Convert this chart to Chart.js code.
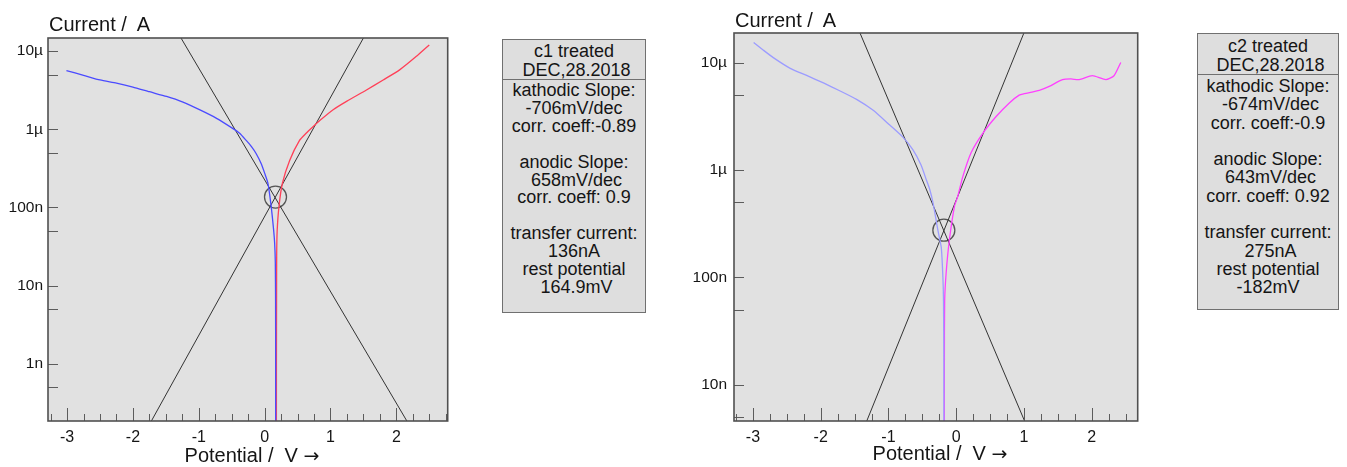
<!DOCTYPE html>
<html>
<head>
<meta charset="utf-8">
<script src="https://cdn.jsdelivr.net/npm/chart.js@4.4.1/dist/chart.umd.min.js"></script>
<style>
  html, body { margin:0; padding:0; background:#ffffff; }
  body { width:1347px; height:467px; position:relative; overflow:hidden; font-family:"Liberation Sans", Arial, sans-serif; color:#151515; }
  canvas { position:absolute; top:0; }
  .t { position:absolute; white-space:pre; font-size:20px; line-height:24px; color:#151515; }
  .arr { font-family:"DejaVu Sans", sans-serif; font-size:19px; }
  .box { position:absolute; background:#dedede; border:1px solid #707070; box-sizing:border-box; font-size:18px; color:#151515; text-align:center; }
  .box > div { white-space:pre; }
  .hdr { border-bottom:1px solid #707070; box-sizing:border-box; }
</style>
</head>
<body>
<canvas id="c1" width="460" height="467" style="left:0px"></canvas>
<canvas id="c2" width="460" height="467" style="left:690px"></canvas>

<div class="t" style="left:49px;top:12px">Current /  A</div>
<div class="t" style="left:735px;top:8px">Current /  A</div>
<div class="t" style="left:172px;top:443px;width:160px;text-align:center">Potential /  V <span class="arr">→</span></div>
<div class="t" style="left:860px;top:441px;width:160px;text-align:center">Potential /  V <span class="arr">→</span></div>

<div class="box" style="left:502px;top:39px;width:144px;height:274px"><div class="hdr" style="height:40px;padding-top:2px;line-height:18.6px">c1 treated
 DEC,28.2018</div><div style="padding-top:2px;line-height:17.9px">kathodic Slope:
-706mV/dec
corr. coeff:-0.89

anodic Slope:
 658mV/dec
corr. coeff: 0.9

transfer current:
136nA
rest potential
 164.9mV</div></div>

<div class="box" style="left:1197px;top:33px;width:142px;height:277px"><div class="hdr" style="height:41px;padding-top:3px;line-height:19.3px">c2 treated
 DEC,28.2018</div><div style="padding-top:2px;line-height:18.3px">kathodic Slope:
 -674mV/dec
corr. coeff:-0.9

anodic Slope:
 643mV/dec
corr. coeff: 0.92

transfer current:
 275nA
rest potential
-182mV</div></div>

<script>
// ---------- tick definitions ----------
const xTicksC1 = [-3.25,-3,-2.75,-2.5,-2.25,-2,-1.75,-1.5,-1.25,-1,-0.75,-0.5,-0.25,0,0.25,0.5,0.75,1,1.25,1.5,1.75,2,2.25,2.5,2.75];
const xTicksC2 = [-3.25,-3,-2.75,-2.5,-2.25,-2,-1.75,-1.5,-1.25,-1,-0.75,-0.5,-0.25,0,0.25,0.5,0.75,1,1.25,1.5,1.75,2,2.25,2.5];
const xLabelValues = [-3,-2,-1,0,1,2];
const xLabelTexts  = ['-3','-2','-1','0','1','2'];
const yTicksC1 = [5e-10,1e-9,5e-9,1e-8,5e-8,1e-7,5e-7,1e-6,5e-6,1e-5];
const yTicksC2 = [5e-9,1e-8,5e-8,1e-7,5e-7,1e-6,5e-6,1e-5];
const yLabelValues = [1e-9,1e-8,1e-7,1e-6,1e-5];
const yLabelTexts  = ['1n','10n','100n','1\u00b5','10\u00b5'];

// ---------- c1 data (potential V, current A) ----------
const c1CathE = [-3.01,-2.75,-2.50,-2.25,-2.00,-1.75,-1.49,-1.25,-0.99,-0.73,-0.48,-0.38,-0.28,-0.20,-0.13,-0.05,0.00,0.05,0.10,0.137,0.152,0.162,0.166,0.167,0.167];
const c1CathI = [5.62e-6,4.90e-6,4.27e-6,3.89e-6,3.47e-6,3.02e-6,2.63e-6,2.24e-6,1.78e-6,1.38e-6,1.02e-6,8.9e-7,7.2e-7,6.0e-7,4.9e-7,3.6e-7,2.75e-7,2.04e-7,1.02e-7,5.1e-8,3.5e-8,2.0e-8,6.3e-9,1e-9,1e-11];
const c1AnoE  = [0.178,0.179,0.181,0.183,0.19,0.217,0.27,0.38,0.53,0.63,0.73,0.85,1.04,1.25,1.54,1.80,2.05,2.30,2.50];
const c1AnoI  = [1e-11,1e-9,6.3e-9,2.5e-8,5.0e-8,1.02e-7,2.04e-7,4.0e-7,7.2e-7,8.9e-7,1.07e-6,1.32e-6,1.78e-6,2.29e-6,3.16e-6,4.27e-6,5.75e-6,8.5e-6,1.20e-5];
const c1TafelCathE = [-1.27, 2.16];
const c1TafelCathI = [1.47e-5, 1.86e-10];
const c1TafelAnoE  = [1.50, -1.72];
const c1TafelAnoI  = [1.47e-5, 1.86e-10];
const c1RestE = [0.165];
const c1RestI = [1.36e-7];

// ---------- c2 data ----------
const c2CathE = [-2.99,-2.85,-2.70,-2.45,-2.20,-1.96,-1.72,-1.47,-1.23,-0.98,-0.79,-0.64,-0.52,-0.44,-0.39,-0.34,-0.27,-0.22,-0.196,-0.187,-0.182,-0.180];
const c2CathI = [1.55e-5,1.32e-5,1.12e-5,8.9e-6,7.6e-6,6.5e-6,5.5e-6,4.57e-6,3.63e-6,2.63e-6,2.04e-6,1.55e-6,1.12e-6,8.1e-7,6.6e-7,4.9e-7,2.75e-7,1.9e-7,1.0e-7,6.0e-8,1.6e-8,1e-11];
const c2AnoE  = [-0.176,-0.174,-0.17,-0.147,-0.10,-0.025,0.02,0.098,0.22,0.39,0.59,0.785,0.93,1.006,1.227,1.374,1.57,1.694,1.817,2.01,2.21,2.33,2.43];
const c2AnoI  = [1e-11,1.6e-8,6.0e-8,1.12e-7,2.24e-7,4.6e-7,5.6e-7,8.7e-7,1.45e-6,2.19e-6,3.16e-6,4.23e-6,5.0e-6,5.16e-6,5.55e-6,6.04e-6,6.98e-6,7.08e-6,6.98e-6,7.6e-6,6.98e-6,7.59e-6,1.01e-5];
const c2TafelCathE = [-1.42, 1.01];
const c2TafelCathI = [1.9e-5, 4.57e-9];
const c2TafelAnoE  = [1.00, -1.32];
const c2TafelAnoI  = [1.9e-5, 4.57e-9];
const c2RestE = [-0.182];
const c2RestI = [2.75e-7];

function pts(E, I) { return E.map((e, i) => ({ x: e, y: I[i] })); }
function isLabel(v, arr) { return arr.findIndex(a => Math.abs(Math.log10(a) - Math.log10(v)) < 1e-6); }

const framePlugin = {
  id: 'frame',
  beforeDraw(chart) {
    const a = chart.chartArea, ctx = chart.ctx;
    ctx.save();
    ctx.fillStyle = '#e1e1e1';
    ctx.fillRect(a.left, a.top, a.right - a.left, a.bottom - a.top);
    ctx.restore();
  },
  afterDraw(chart) {
    const a = chart.chartArea, ctx = chart.ctx;
    const xs = chart.scales.x, ys = chart.scales.y;
    ctx.save();
    ctx.strokeStyle = '#5c5c5c';
    ctx.lineWidth = 1;
    ctx.beginPath();
    ys.ticks.forEach(t => {
      const p = Math.round(ys.getPixelForValue(t.value)) + 0.5;
      if (p < a.top || p > a.bottom) return;
      ctx.moveTo(a.left, p); ctx.lineTo(a.left + 10, p);
    });
    xs.ticks.forEach(t => {
      const p = Math.round(xs.getPixelForValue(t.value)) + 0.5;
      if (p < a.left || p > a.right) return;
      const major = xLabelValues.indexOf(t.value) >= 0;
      ctx.moveTo(p, a.bottom); ctx.lineTo(p, a.bottom - (major ? 13 : 7));
    });
    ctx.stroke();
    ctx.strokeStyle = '#505050';
    ctx.lineWidth = 1.6;
    ctx.strokeRect(a.left, a.top, a.right - a.left, a.bottom - a.top);
    ctx.restore();
  }
};

function makeChart(id, cfg) {
  return new Chart(document.getElementById(id), {
    type: 'scatter',
    data: {
      datasets: [
        { data: pts(cfg.cathE, cfg.cathI), showLine: true, borderColor: cfg.cathColor, borderWidth: 1.3, pointRadius: 0, tension: 0.2 },
        { data: pts(cfg.anoE, cfg.anoI), showLine: true, borderColor: cfg.anoColor, borderWidth: 1.3, pointRadius: 0, tension: 0.2 },
        { data: pts(cfg.tcE, cfg.tcI), showLine: true, borderColor: '#333', borderWidth: 1, pointRadius: 0 },
        { data: pts(cfg.taE, cfg.taI), showLine: true, borderColor: '#333', borderWidth: 1, pointRadius: 0 },
        { data: pts(cfg.rE, cfg.rI), showLine: false, pointRadius: 11, pointStyle: 'circle', pointBackgroundColor: 'rgba(0,0,0,0)', pointBorderColor: '#555', pointBorderWidth: 1.3 }
      ]
    },
    options: {
      responsive: false,
      animation: false,
      events: [],
      layout: { padding: { top: cfg.padTop, right: cfg.padRight, left: 0, bottom: 0 } },
      plugins: { legend: { display: false }, tooltip: { enabled: false } },
      scales: {
        x: {
          type: 'linear', min: cfg.xMin, max: cfg.xMax,
          grid: { display: false, drawTicks: false }, border: { display: false },
          afterBuildTicks: s => { s.ticks = cfg.xTicks.map(v => ({ value: v })); },
          afterFit: s => { s.height = cfg.xHeight; },
          ticks: {
            autoSkip: false, maxRotation: 0, padding: 7, color: '#151515',
            font: { family: '"Liberation Sans", Arial, sans-serif', size: 16 },
            callback: v => { const i = xLabelValues.indexOf(v); return i >= 0 ? xLabelTexts[i] : ''; }
          }
        },
        y: {
          type: 'logarithmic', min: cfg.yMin, max: cfg.yMax,
          grid: { display: false, drawTicks: false }, border: { display: false },
          afterBuildTicks: s => { s.ticks = cfg.yTicks.map(v => ({ value: v })); },
          afterFit: s => { s.width = cfg.yWidth; },
          ticks: {
            autoSkip: false, padding: cfg.yPad, color: '#151515',
            font: { family: '"Liberation Sans", Arial, sans-serif', size: 15.5 },
            callback: v => { const i = isLabel(v, yLabelValues); return i >= 0 ? yLabelTexts[i] : ''; }
          }
        }
      }
    },
    plugins: [framePlugin]
  });
}

makeChart('c1', {
  cathE: c1CathE, cathI: c1CathI, anoE: c1AnoE, anoI: c1AnoI,
  tcE: c1TafelCathE, tcI: c1TafelCathI, taE: c1TafelAnoE, taI: c1TafelAnoI,
  rE: c1RestE, rI: c1RestI,
  cathColor: '#4b4bff', anoColor: '#ff4058',
  xMin: -3.29, xMax: 2.78, yMin: 1.86e-10, yMax: 1.47e-5,
  xTicks: xTicksC1, yTicks: yTicksC1,
  padTop: 38, padRight: 12, xHeight: 46, yWidth: 48, yPad: 5
});

makeChart('c2', {
  cathE: c2CathE, cathI: c2CathI, anoE: c2AnoE, anoI: c2AnoI,
  tcE: c2TafelCathE, tcI: c2TafelCathI, taE: c2TafelAnoE, taI: c2TafelAnoI,
  rE: c2RestE, rI: c2RestI,
  cathColor: '#9c9cff', anoColor: '#ff40ff',
  xMin: -3.28, xMax: 2.68, yMin: 4.57e-9, yMax: 1.9e-5,
  xTicks: xTicksC2, yTicks: yTicksC2,
  padTop: 33, padRight: 11, xHeight: 46, yWidth: 44, yPad: 7
});
</script>
</body>
</html>
